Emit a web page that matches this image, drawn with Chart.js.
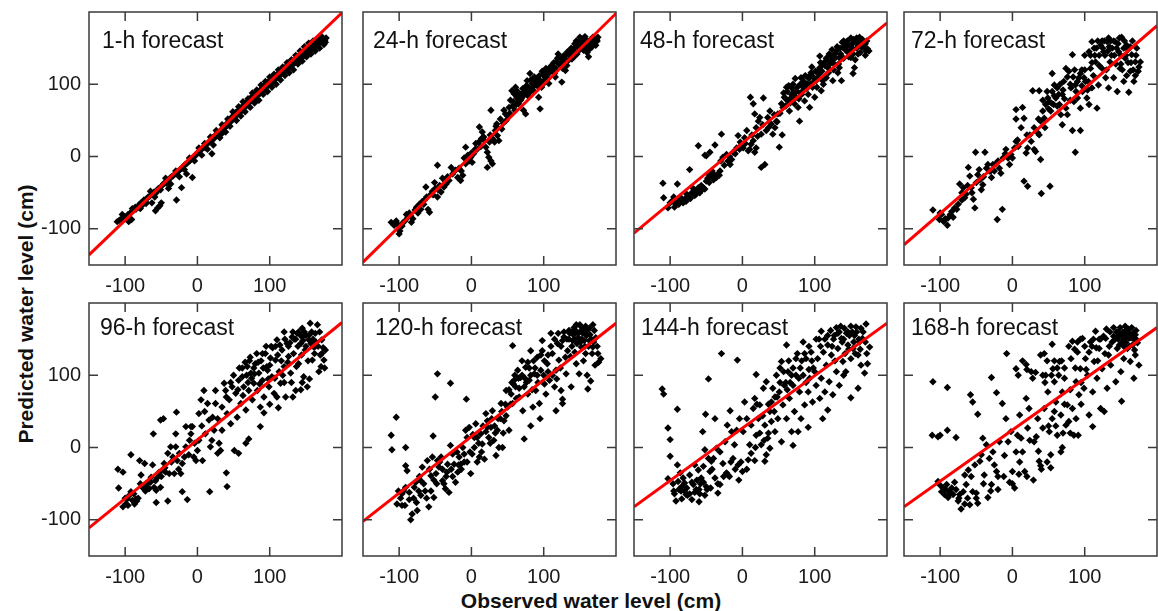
<!DOCTYPE html>
<html><head><meta charset="utf-8">
<script src="https://cdn.jsdelivr.net/npm/chart.js@4.4.1/dist/chart.umd.min.js"></script>
<style>
html,body{margin:0;padding:0;background:#fff;overflow:hidden;width:1158px;height:611px;position:relative;}
canvas{position:absolute;}
.ax{position:absolute;font-family:"Liberation Sans",Arial,sans-serif;font-weight:bold;font-size:21px;line-height:24px;color:#111;white-space:nowrap;}
#xt{left:591px;top:589px;transform:translateX(-50%);}
#yt{left:26px;top:314px;transform:translate(-50%,-50%) rotate(-90deg);}
</style></head><body>
<div class="ax" id="xt">Observed water level (cm)</div>
<div class="ax" id="yt">Predicted water level (cm)</div>
<script>
const panelTitles = ["1-h forecast","24-h forecast","48-h forecast","72-h forecast","96-h forecast","120-h forecast","144-h forecast","168-h forecast"];
const tickValues = [-100, 0, 100];
const axisMin = -150, axisMax = 200;
// regression line: predicted value at observed = axisMin and at observed = axisMax
const fitAtMin = [-136, -146, -106, -122, -111, -102, -82, -82];
const fitAtMax = [199, 198, 185, 181, 173, 172, 172, 166];

const pts1h = [[-111,-90],[-108,-88],[-105,-86],[-101,-83],[-99,-85],[-96,-80],[-93,-78],[-91,-87],[-90,-72],[-88,-74],[-85,-73],[-82,-70],[-80,-66],[-78,-64],[-76,-67],[-74,-60],[-72,-62],[-70,-58],[-68,-56],[-66,-55],[-63,-64],[-62,-52],[-60,-49],[-58,-75],[-57,-50],[-55,-71],[-54,-44],[-52,-68],[-50,-64],[-49,-40],[-47,-38],[-45,-36],[-43,-37],[-41,-33],[-40,-44],[-38,-30],[-36,-28],[-34,-27],[-32,-25],[-29,-60],[-28,-22],[-26,-20],[-24,-18],[-22,-43],[-21,-16],[-19,-13],[-17,-11],[-15,-24],[-14,-9],[-12,-7],[-10,-5],[-8,-3],[-7,-29],[-5,-1],[-3,2],[-1,3],[1,6],[3,8],[5,9],[7,12],[9,14],[11,12],[13,17],[15,19],[17,21],[19,22],[20,4],[21,26],[23,25],[25,30],[27,29],[28,33],[30,32],[32,36],[33,31],[35,38],[36,42],[38,40],[40,45],[41,43],[43,47],[44,50],[46,52],[47,49],[48,55],[50,56],[51,53],[52,59],[53,61],[55,58],[56,62],[57,64],[58,60],[59,66],[60,63],[61,68],[62,65],[63,70],[64,67],[65,72],[66,69],[67,74],[68,71],[69,76],[70,73],[71,78],[72,75],[73,80],[74,77],[75,82],[76,78],[77,84],[78,80],[79,85],[80,82],[81,87],[82,84],[83,79],[84,89],[85,86],[86,91],[87,88],[88,93],[89,90],[90,95],[91,92],[92,97],[93,94],[94,99],[95,96],[96,101],[97,98],[98,103],[99,100],[100,105],[101,102],[102,107],[104,104],[105,109],[106,106],[107,111],[108,108],[110,113],[111,110],[112,115],[113,112],[114,117],[116,114],[117,119],[118,116],[119,121],[120,118],[121,123],[123,120],[124,125],[125,122],[126,127],[128,124],[129,129],[130,126],[131,131],[133,128],[134,133],[135,130],[137,135],[138,132],[139,137],[141,134],[142,139],[143,141],[144,136],[146,143],[147,140],[148,145],[150,142],[151,148],[152,145],[154,150],[155,147],[156,152],[158,149],[159,154],[160,151],[162,156],[163,153],[165,158],[166,155],[168,160],[169,157],[171,162],[172,159],[174,163],[176,161],[178,164],
[-104,-80],[-95,-90],[-86,-70],[-79,-72],[-71,-65],[-65,-48],[-59,-56],[-51,-46],[-44,-30],[-37,-38],[-30,-20],[-25,-28],[-18,-18],[-11,-2],[-4,-6],[2,12],[6,2],[10,18],[14,10],[18,27],[22,16],[26,36],[31,26],[34,44],[39,34],[42,52],[45,42],[49,62],[54,50],[57,69],[60,56],[63,76],[66,62],[70,80],[73,68],[76,88],[79,74],[82,92],[85,78],[88,99],[91,86],[94,104],[97,90],[100,110],[103,96],[106,114],[109,100],[112,120],[115,106],[118,124],[121,112],[124,130],[127,116],[130,134],[133,120],[136,140],[139,128],[142,146],[145,132],[148,152],[151,138],[154,157],[157,142],[160,160],[163,146],[166,163],[169,150],[172,166],[175,155],[177,158]];

const pts24h = [[-111,-91],[-104,-89],[-100,-107],[-99,-103],[-92,-89],[-88,-84],[-83,-91],[-81,-86],[-72,-66],[-70,-73],[-60,-73],[-58,-77],[-56,-52],[-47,-56],[-42,-49],[-38,-42],[-35,-38],[-31,-33],[-47,-12],[-63,-42],[-51,-36],[-28,-15],[-22,-19],[-19,-29],[-15,-33],[-12,-26],[-8,-10],[-3,-6],[-1,-1],[1,-8],[-8,13],[6,18],[11,41],[15,34],[17,27],[20,13],[22,6],[24,-1],[27,-6],[22,-15],[29,-10],[27,64],[33,36],[36,29],[38,22],[40,52],[45,64],[47,59],[52,68],[54,78],[56,91],[59,87],[61,96],[63,82],[65,73],[68,78],[70,87],[72,64],[75,59],[77,105],[79,96],[81,115],[84,101],[86,91],[88,103],[93,82],[95,66],[97,96],[100,105],[102,110],[104,115],[107,101],[109,124],[113,119],[116,110],[120,142],[123,128],[125,103],[130,119],[132,126],[134,133],[139,135],[141,147],[143,156],[146,142],[148,152],[152,163],[155,147],[157,166],[159,156],[162,138],[164,149],[166,161],[171,158],[173,162],[168,165],
[-107,-95],[-95,-92],[-90,-80],[-86,-78],[-78,-74],[-76,-70],[-68,-62],[-65,-60],[-62,-56],[-54,-48],[-50,-44],[-44,-40],[-40,-30],[-33,-28],[-26,-24],[-17,-16],[-10,-2],[-5,2],[3,4],[8,10],[10,20],[13,14],[18,22],[26,30],[30,24],[34,42],[42,38],[44,46],[48,50],[50,56],[53,60],[57,70],[60,64],[62,72],[64,90],[66,84],[69,80],[71,94],[74,88],[76,98],[78,84],[80,92],[82,106],[85,96],[87,110],[90,100],[92,108],[94,112],[96,104],[98,118],[99,100],[101,112],[103,122],[106,108],[108,116],[110,120],[112,126],[114,130],[117,122],[118,132],[121,128],[124,136],[126,122],[128,140],[131,134],[133,145],[136,140],[138,150],[140,142],[142,138],[144,152],[147,158],[150,148],[151,160],[153,154],[156,150],[158,162],[160,144],[163,160],[165,155],[167,152],[170,164],[172,154],[174,160],
[150,165],[154,158],[160,152],[165,162],[169,158],[175,165],[145,160],[137,145],[130,140],[127,130],[119,136],[115,115],[111,126],[105,118],[100,112],[95,104],[91,98],[86,106],[83,94],[80,88],[77,92],[72,84],[68,86],[64,80],[60,88],[58,76],[35,45],[32,20],[25,20],[14,25],[5,10],[0,5],[-6,-4],[-14,-20],[-24,-20],[-36,-34],[-46,-46],[-53,-53],[-66,-66],[-74,-78],[-84,-82],[-96,-96],[-102,-94]];

const pts48h = [[-110,-37],[-109,-57],[-103,-71],[-100,-64],[-96,-61],[-90,-38],[-89,-61],[-86,-57],[-82,-64],[-80,-59],[-77,-52],[-73,-18],[-70,-50],[-66,-48],[-61,-43],[-59,-50],[-54,-43],[-52,-45],[-50,-34],[-47,-24],[-45,-27],[-43,-29],[-40,-24],[-38,-27],[-36,-29],[-34,-24],[-31,-20],[-52,2],[-50,1],[-45,6],[-38,16],[-61,15],[-29,31],[-27,-1],[-22,3],[-20,-6],[-17,-11],[-15,-4],[-13,6],[-8,12],[-6,29],[-4,10],[-1,17],[1,12],[3,26],[6,36],[8,8],[10,10],[12,17],[15,22],[17,6],[19,12],[11,82],[15,73],[17,59],[19,40],[22,49],[24,54],[26,31],[29,81],[26,-15],[31,-11],[33,36],[35,54],[38,63],[40,45],[42,31],[45,40],[47,49],[49,59],[51,13],[54,73],[55,30],[56,68],[58,82],[61,96],[63,77],[65,63],[68,86],[70,100],[72,73],[74,82],[77,68],[79,49],[81,109],[84,91],[86,77],[88,100],[91,86],[93,68],[95,116],[97,96],[100,82],[102,105],[104,109],[107,123],[109,91],[111,105],[116,109],[118,123],[120,142],[123,133],[125,105],[127,128],[130,146],[132,116],[134,137],[137,105],[139,151],[143,156],[148,146],[150,137],[153,115],[155,123],[157,160],[160,142],[162,165],[164,156],[166,151],[171,146],[173,149],[153,142],[134,123],[125,139],[113,130],[107,139],
[52,60],[57,88],[60,70],[62,90],[64,98],[66,80],[69,94],[71,88],[73,108],[76,96],[78,80],[80,100],[82,86],[85,104],[87,112],[89,94],[92,108],[94,100],[96,124],[98,110],[101,118],[103,96],[106,114],[108,130],[110,118],[112,100],[114,126],[117,134],[119,116],[121,128],[124,148],[126,120],[128,136],[131,152],[133,128],[136,142],[138,158],[140,136],[142,148],[145,160],[147,138],[149,154],[152,150],[154,162],[156,134],[158,150],[161,156],[163,144],[165,160],[168,154],[170,140],[175,146],[-95,-56],[-92,-66],[-84,-62],[-75,-56],[-68,-44],[-64,-52],[-57,-40],[-48,-30],[-42,-20],[-30,-6],[-25,-12],[-18,0],[-10,4],[-3,20],[4,18],[13,30],[21,28],[28,44],[36,40],[44,58],[48,48],
[-98,-62],[-94,-70],[-88,-66],[-84,-58],[-78,-62],[-72,-58],[-66,-54],[-62,-48],[-56,-46],[-46,-36],[-40,-32],[-32,-26],[140,160],[144,152],[150,164],[152,156],[158,164],[160,154],[166,162],[170,156],[172,160],[146,144],[135,150],[128,142],[122,140],[116,136],[110,128],[104,118],[99,104],[93,112],[90,100],[84,96],[80,88],[75,90],[70,78],[66,74],[60,80]];

const pts72h = [[-110,-74],[-101,-87],[-98,-80],[-90,-95],[-89,-85],[-86,-80],[-80,-71],[-77,-73],[-75,-66],[-73,-38],[-70,-50],[-68,-43],[-66,-57],[-64,-52],[-61,-15],[-59,-27],[-57,-43],[-54,-59],[-52,-71],[-50,-36],[-51,6],[-48,-25],[-45,-32],[-43,-46],[-41,-39],[-38,6],[-36,-16],[-34,-11],[-32,-20],[-29,-29],[-27,-11],[-25,-20],[-21,-87],[-20,-6],[-18,-16],[-16,-23],[-14,-73],[-13,-2],[-9,10],[-6,-2],[-4,-11],[-2,3],[0,-2],[3,12],[5,21],[7,23],[5,65],[14,68],[5,52],[16,53],[12,40],[16,-34],[21,-41],[19,5],[21,12],[26,21],[28,91],[30,10],[32,7],[35,33],[37,91],[37,30],[39,49],[39,-4],[40,-51],[42,63],[44,53],[46,72],[49,81],[51,76],[52,-41],[53,63],[55,115],[55,90],[58,99],[60,81],[62,95],[65,72],[67,58],[69,86],[69,44],[71,104],[74,67],[76,58],[78,118],[81,95],[83,141],[83,36],[85,76],[87,6],[87,99],[90,81],[92,109],[94,36],[94,67],[97,90],[99,109],[101,104],[103,81],[106,145],[106,72],[108,122],[110,95],[113,150],[115,131],[117,67],[119,99],[122,154],[124,122],[126,145],[129,109],[131,159],[133,95],[135,131],[138,150],[140,109],[142,159],[145,90],[147,145],[149,122],[151,165],[154,104],[156,136],[158,154],[161,89],[163,118],[165,141],[168,104],[170,131],[172,150],[174,118],[177,131],[133,164],[110,159],[94,115],[74,122],
[62,70],[66,100],[72,80],[80,78],[84,110],[88,90],[96,98],[100,120],[104,92],[108,140],[112,112],[116,150],[120,126],[124,160],[128,140],[130,120],[134,152],[137,140],[140,160],[143,128],[146,156],[150,140],[152,120],[155,160],[158,112],[160,148],[164,130],[166,160],[170,112],[-95,-90],[-84,-76],[-62,-40],[-46,-18],[-40,-28],[-30,-20],[-23,-10],[-10,4],[8,14],[24,30],[45,40],[50,66],[57,72],
[120,140],[125,150],[127,160],[132,146],[136,160],[141,140],[144,150],[148,164],[150,128],[154,150],[157,140],[160,130],[163,152],[167,120],[171,140],[175,124],[118,160],[114,140],[110,130],[105,104],[100,140],[96,120],[90,104],[86,120],[80,100],[76,110],[70,92],[64,86],[58,84],[54,74],[48,90],[42,78],[36,52],[30,40],[20,30],[-56,-50],[-70,-60],[-82,-84],[-100,-78],[-93,-86]];

const pts96h = [[-110,-30],[-103,-34],[-109,-56],[-92,-10],[-103,-82],[-99,-78],[-97,-71],[-94,-66],[-92,-61],[-90,-73],[-87,-78],[-85,-71],[-84,-74],[-80,-18],[-78,-38],[-76,-55],[-74,-57],[-73,-22],[-71,-50],[-69,-55],[-67,-57],[-64,-41],[-62,-24],[-61,19],[-60,-55],[-57,-76],[-57,-59],[-55,-41],[-53,-34],[-51,38],[-51,-55],[-48,-31],[-47,40],[-46,-22],[-44,-34],[-41,-74],[-41,-8],[-39,-36],[-37,1],[-34,-13],[-32,-36],[-30,1],[-29,49],[-28,-18],[-25,-8],[-23,-36],[-21,-61],[-21,-22],[-18,-13],[-16,1],[-14,-72],[-11,10],[-9,19],[-9,29],[-7,29],[-5,-13],[-2,-18],[0,-4],[2,10],[5,66],[7,-18],[9,79],[11,19],[14,61],[16,38],[17,-61],[18,1],[21,42],[23,24],[25,61],[28,-8],[30,6],[32,-4],[34,24],[37,89],[39,79],[40,-35],[41,-54],[41,47],[44,66],[46,33],[48,84],[51,-4],[53,75],[55,42],[57,93],[60,61],[62,98],[64,84],[67,52],[69,112],[71,12],[71,79],[74,103],[76,66],[78,89],[80,116],[83,79],[85,103],[87,29],[87,56],[90,93],[92,70],[94,130],[97,107],[99,84],[101,124],[103,98],[106,75],[108,121],[110,149],[112,55],[113,105],[115,89],[117,135],[120,112],[122,70],[124,144],[126,126],[129,103],[131,153],[133,130],[136,79],[138,158],[140,116],[143,80],[143,144],[145,153],[147,98],[149,135],[152,84],[154,149],[156,172],[159,121],[161,139],[163,158],[166,170],[168,105],[170,128],[172,149],[175,121],[177,135],[57,-8],[67,6],[25,79],[2,47],[-16,29],[-30,19],
[58,110],[63,72],[66,118],[70,90],[73,125],[75,96],[79,102],[82,130],[86,88],[88,120],[91,110],[95,140],[98,95],[100,114],[104,138],[107,96],[111,128],[114,142],[118,100],[121,150],[125,118],[128,145],[130,90],[134,150],[137,112],[139,140],[142,156],[144,128],[146,148],[148,160],[150,140],[153,120],[155,156],[157,144],[160,150],[162,130],[164,146],[167,140],[169,160],[171,112],[174,138],
[-100,-70],[-96,-80],[-88,-64],[-82,-70],[-79,-50],[-72,-60],[-65,-48],[-58,-46],[-50,-40],[-45,-28],[-36,-20],[-26,-30],[-12,-10],[-4,6],[6,30],[10,50],[20,10],[28,40],[34,56],[40,70],[46,90],[50,100],[56,80],[62,110],[68,100],[72,120],[78,110],[84,118],[90,130],[96,112],[102,140],[108,140],[116,120],[120,160],[126,140],[132,160],[136,150],[140,160],[145,165],[150,155],[158,160],[163,140],[172,130],[176,110],[155,95],[145,90],[132,70],[120,90],[110,70],[100,60],[92,48]];

const pts120h = [[-104,42],[-111,17],[-110,-3],[-91,0],[-91,-25],[-89,-32],[-101,-60],[-103,-78],[-96,-80],[-92,-80],[-96,-64],[-91,-55],[-84,-100],[-82,-92],[-75,-87],[-79,-55],[-77,-48],[-73,-60],[-70,-46],[-66,-50],[-68,-27],[-61,-18],[-59,-82],[-56,-39],[-53,16],[-52,-69],[-54,-13],[-49,-36],[-47,-18],[-45,-27],[-42,-13],[-40,-46],[-38,-50],[-36,-57],[-31,-62],[-33,-23],[-29,3],[-26,-9],[-24,-23],[-22,-48],[-19,-34],[-17,-13],[-15,-23],[-12,0],[-10,-9],[-8,24],[-6,14],[-3,28],[-1,-36],[1,-9],[4,0],[6,33],[8,14],[11,-13],[13,19],[15,5],[18,-16],[20,47],[22,37],[24,14],[27,28],[29,51],[31,10],[34,-11],[36,24],[38,0],[41,61],[43,0],[45,37],[48,79],[50,56],[52,24],[55,74],[57,141],[57,61],[59,93],[61,84],[64,107],[66,70],[68,97],[71,51],[73,12],[73,84],[75,111],[78,74],[80,93],[82,30],[82,134],[85,56],[87,102],[89,79],[91,125],[94,61],[95,40],[96,107],[98,134],[101,88],[103,74],[105,116],[108,93],[110,158],[112,130],[115,84],[117,51],[117,107],[119,144],[121,121],[124,79],[126,67],[126,61],[128,153],[131,102],[133,134],[135,162],[138,84],[140,148],[142,166],[145,116],[147,158],[149,102],[152,139],[154,158],[156,148],[158,130],[161,81],[163,148],[165,92],[168,139],[170,162],[171,114],[175,130],[179,123],[152,167],[126,148],[98,148],[-47,102],[-50,70],[-29,89],[-7,67],
[132,150],[136,158],[139,140],[141,156],[143,150],[144,162],[146,144],[148,152],[150,160],[151,146],[153,150],[155,164],[157,140],[159,155],[160,162],[162,140],[164,156],[166,150],[167,130],[169,146],[172,152],[174,140],[176,118],[137,126],[143,132],[155,120],[160,100],[130,125],[123,110],[118,95],[112,100],[106,128],[100,100],[92,90],[88,110],[84,80],[80,110],[76,90],[70,100],[66,82],[62,68],[58,88],[54,60],[48,44],[44,20],[40,40],[32,30],[26,6],[20,22],[14,-6],[8,-20],[2,18],[-6,-20],[-14,-30],[-20,-6],[-28,-30],[-35,-40],[-44,-20],[-52,-45],[-58,-30],[-64,-60],[-72,-40],[-80,-70],[-86,-62],[-98,-70],
[145,170],[150,170],[158,168],[163,165],[168,170],[157,158],[141,162],[135,150],[128,160],[124,140],[120,158],[115,150],[110,140],[106,105],[101,120],[96,128],[91,100],[86,120],[82,100],[78,118],[74,96],[70,120],[65,96],[60,100],[56,90],[52,80],[47,60],[42,50],[37,40],[33,20],[28,40],[22,28],[16,30],[10,6],[4,14],[-2,-6],[-10,-20],[-18,-24],[-26,-40],[-34,-34],[-40,-30],[-48,-50],[-56,-60],[-62,-70],[-70,-66],[-76,-76],[-86,-72],[-94,-60]];

const pts144h = [[-111,81],[-109,74],[-90,53],[-103,27],[-100,11],[-100,-12],[-103,-43],[-90,-24],[-86,-35],[-89,-47],[-84,-54],[-92,-74],[-84,-71],[-82,-42],[-80,-49],[-77,-56],[-73,-38],[-73,-64],[-70,-72],[-68,-51],[-66,-24],[-63,-45],[-61,-31],[-60,-75],[-59,-64],[-57,-42],[-55,22],[-54,-26],[-52,-3],[-51,46],[-50,-54],[-49,-58],[-47,95],[-47,-15],[-45,-33],[-43,-19],[-40,-15],[-38,40],[-38,-42],[-36,-1],[-34,-63],[-31,-51],[-31,-6],[-29,130],[-27,-22],[-24,8],[-22,-35],[-21,31],[-20,-38],[-18,-40],[-17,51],[-15,22],[-13,-15],[-11,4],[-8,24],[-7,121],[-6,-24],[-5,-45],[-4,40],[0,-33],[1,22],[3,63],[6,40],[8,-17],[10,4],[12,31],[15,54],[17,-18],[17,68],[19,101],[19,17],[22,40],[24,59],[26,4],[29,82],[31,-19],[31,31],[33,-10],[33,91],[35,13],[38,-1],[38,50],[40,63],[42,82],[45,22],[47,100],[49,40],[51,77],[54,8],[54,119],[56,59],[58,86],[61,142],[61,40],[63,105],[65,68],[68,22],[70,3],[70,86],[72,50],[74,123],[77,22],[79,77],[81,40],[84,146],[84,100],[86,59],[88,123],[91,28],[91,77],[93,96],[95,132],[97,63],[100,105],[102,86],[104,123],[107,68],[109,161],[109,96],[111,40],[114,77],[116,114],[118,52],[118,142],[120,91],[123,128],[125,73],[127,155],[130,166],[130,105],[132,137],[134,86],[137,151],[139,119],[141,165],[143,105],[146,142],[148,155],[150,69],[150,123],[153,137],[155,155],[157,167],[160,82],[160,128],[162,146],[164,114],[166,151],[169,103],[171,171],[173,116],[176,139],[164,165],
[134,160],[138,146],[142,130],[144,158],[147,136],[152,160],[154,146],[156,130],[158,160],[161,150],[163,136],[167,160],[170,146],[172,130],[140,100],[128,120],[124,140],[112,132],[106,150],[98,110],[92,140],[88,90],[80,110],[76,130],[68,100],[64,120],[60,90],[52,110],[45,70],[36,60],[28,44],[20,60],[-60,-58],[-66,-62],[-78,-65],[-85,-60],[-95,-60],[-54,-48],[-42,-30],
[150,168],[146,160],[140,150],[136,168],[132,158],[126,150],[122,162],[118,155],[114,150],[108,140],[102,150],[96,120],[92,108],[86,130],[82,120],[78,96],[74,100],[70,110],[66,90],[62,80],[57,105],[52,90],[48,70],[44,50],[40,36],[36,20],[30,10],[24,20],[18,0],[12,-8],[6,-30],[-2,-20],[-10,-30],[-16,-20],[-26,-40],[-34,-50],[-44,-56],[-52,-66],[-58,-50],[-64,-58],[-70,-48],[-76,-66],[-80,-60],[-88,-58],[-94,-64],[-96,-50]];

const pts168h = [[-110,91],[-90,83],[-111,17],[-103,15],[-100,17],[-90,24],[-78,14],[-103,-47],[-98,-61],[-96,-56],[-94,-65],[-91,-51],[-89,-69],[-87,-61],[-84,-56],[-82,-65],[-78,-58],[-75,-74],[-73,-65],[-71,-85],[-68,-61],[-66,-38],[-64,-51],[-61,-31],[-59,-79],[-58,73],[-57,-40],[-55,63],[-55,-61],[-52,-24],[-50,-63],[-48,46],[-48,-77],[-45,-19],[-43,-10],[-41,13],[-39,-38],[-36,4],[-34,-69],[-32,-15],[-29,97],[-29,-51],[-27,-6],[-25,-24],[-22,-33],[-22,76],[-20,-58],[-18,8],[-14,61],[-11,-11],[-9,40],[-8,130],[-6,8],[-4,-48],[-2,22],[0,-33],[3,-56],[5,109],[5,-6],[7,17],[9,-37],[10,45],[12,13],[14,-6],[17,-33],[19,115],[19,68],[21,27],[23,54],[26,105],[28,96],[29,-45],[30,8],[33,15],[35,40],[37,-19],[39,-25],[39,128],[42,27],[44,130],[44,54],[46,100],[49,77],[51,22],[53,-28],[53,-10],[55,143],[55,40],[56,109],[58,91],[60,63],[62,17],[65,119],[67,-6],[67,45],[69,0],[69,77],[72,96],[74,31],[76,59],[78,36],[81,123],[83,147],[83,54],[85,17],[88,91],[90,132],[91,17],[92,73],[94,109],[97,151],[99,82],[101,123],[104,100],[106,45],[108,146],[111,77],[111,29],[113,119],[115,161],[117,96],[120,137],[122,54],[124,109],[127,50],[129,151],[131,82],[133,128],[136,114],[138,146],[140,166],[143,91],[145,137],[147,155],[150,105],[151,64],[152,146],[154,123],[156,160],[159,137],[161,151],[163,119],[166,142],[168,96],[170,128],[171,162],[175,114],[172,149],
[142,150],[144,160],[148,142],[150,156],[153,160],[155,150],[157,145],[158,155],[160,164],[162,140],[164,152],[167,158],[169,135],[173,145],[134,140],[128,130],[122,150],[118,120],[110,140],[102,108],[95,90],[87,110],[80,80],[72,60],[64,100],[58,50],[50,30],[45,90],[36,-5],[24,10],[10,-20],[-12,-40],[-40,-50],[-62,-70],[-80,-48],[-100,-52],
[146,160],[149,166],[152,154],[156,168],[159,162],[162,158],[165,166],[168,150],[170,156],[154,140],[146,150],[140,154],[135,160],[130,164],[126,154],[120,150],[116,138],[112,150],[106,132],[100,140],[94,150],[90,146],[86,136],[78,140],[72,110],[68,120],[62,110],[58,120],[54,100],[48,120],[42,100],[32,104],[20,108],[14,120],[8,100],[95,60],[88,40],[80,20],[70,20],[60,30],[48,-20],[40,-30],[20,-40],[0,-50],[-20,-40],[-30,-60],[-50,-70],[-66,-78],[-74,-70],[-86,-64],[-92,-58]];

const panelPoints = [pts1h, pts24h, pts48h, pts72h, pts96h, pts120h, pts144h, pts168h];

// layout (pixels)
const colLeft = [89, 363, 634, 904];
const rowTop = [12, 303];
const areaW = 254, areaH = 253;
const yAxisW = 60, xAxisH = 42, padTop = 4, padRight = 3;
const titleOffX = [13, 10, 6, 7, 11, 12, 7, 7];
const titleOffY = [36, 36, 36, 36, 32, 32, 32, 32];
const FONT = '"Liberation Sans", Arial, Helvetica, sans-serif';

const framePlugin = {
  id: 'frame',
  afterDraw(chart) {
    const {ctx, chartArea: a, scales} = chart;
    const idx = chart.options.plugins.frame.index;
    ctx.save();
    ctx.strokeStyle = '#3a3a3a';
    ctx.lineWidth = 1.5;
    ctx.strokeRect(a.left, a.top, a.right - a.left, a.bottom - a.top);
    const tl = 9;
    ctx.beginPath();
    tickValues.forEach(v => {
      const px = scales.x.getPixelForValue(v);
      ctx.moveTo(px, a.bottom); ctx.lineTo(px, a.bottom - tl);
      ctx.moveTo(px, a.top); ctx.lineTo(px, a.top + tl);
      const py = scales.y.getPixelForValue(v);
      ctx.moveTo(a.left, py); ctx.lineTo(a.left + tl, py);
      ctx.moveTo(a.right, py); ctx.lineTo(a.right - tl, py);
    });
    ctx.stroke();
    ctx.fillStyle = '#111';
    ctx.font = '23px ' + FONT;
    ctx.textBaseline = 'alphabetic';
    ctx.textAlign = 'left';
    ctx.fillText(panelTitles[idx], a.left + titleOffX[idx], a.top + titleOffY[idx]);
    ctx.restore();
  }
};

function zeroPad(s) { s.paddingTop = 0; s.paddingBottom = 0; s.paddingLeft = 0; s.paddingRight = 0; }

panelPoints.forEach((pts, i) => {
  const col = i % 4, row = Math.floor(i / 4);
  const cv = document.createElement('canvas');
  const w = yAxisW + areaW + padRight, h = padTop + areaH + xAxisH;
  cv.width = w; cv.height = h;
  cv.style.width = w + 'px'; cv.style.height = h + 'px';
  cv.style.left = (colLeft[col] - yAxisW) + 'px';
  cv.style.top = (rowTop[row] - padTop) + 'px';
  document.body.appendChild(cv);
  new Chart(cv, {
    type: 'scatter',
    data: {
      datasets: [
        {
          type: 'line',
          data: [{x: axisMin, y: fitAtMin[i]}, {x: axisMax, y: fitAtMax[i]}],
          borderColor: '#ff0000', borderWidth: 3, pointRadius: 0, fill: false, tension: 0, order: 0
        },
        {
          data: pts.map(p => ({x: p[0], y: p[1]})),
          pointStyle: 'rectRot', pointRadius: 3.7, pointBorderWidth: 0,
          backgroundColor: '#000', borderColor: '#000', order: 1
        }
      ]
    },
    options: {
      responsive: false, animation: false, devicePixelRatio: 1,
      layout: {padding: {top: padTop, right: padRight, left: 0, bottom: 0}},
      plugins: {legend: {display: false}, tooltip: {enabled: false}, frame: {index: i}},
      scales: {
        x: {
          type: 'linear', position: 'bottom', min: axisMin, max: axisMax,
          afterBuildTicks: s => { s.ticks = tickValues.map(v => ({value: v})); },
          afterFit: s => { s.height = xAxisH; zeroPad(s); },
          grid: {display: false, drawTicks: false}, border: {display: false},
          ticks: {font: {family: FONT, size: 20}, color: '#1a1a1a', padding: 9, maxRotation: 0, autoSkip: false}
        },
        y: {
          type: 'linear', min: axisMin, max: axisMax,
          afterBuildTicks: s => { s.ticks = tickValues.map(v => ({value: v})); },
          afterFit: s => { s.width = yAxisW; zeroPad(s); },
          grid: {display: false, drawTicks: false}, border: {display: false},
          ticks: {display: col === 0, font: {family: FONT, size: 20}, color: '#1a1a1a', padding: 8, autoSkip: false}
        }
      }
    },
    plugins: [framePlugin]
  });
});
</script>
</body></html>
